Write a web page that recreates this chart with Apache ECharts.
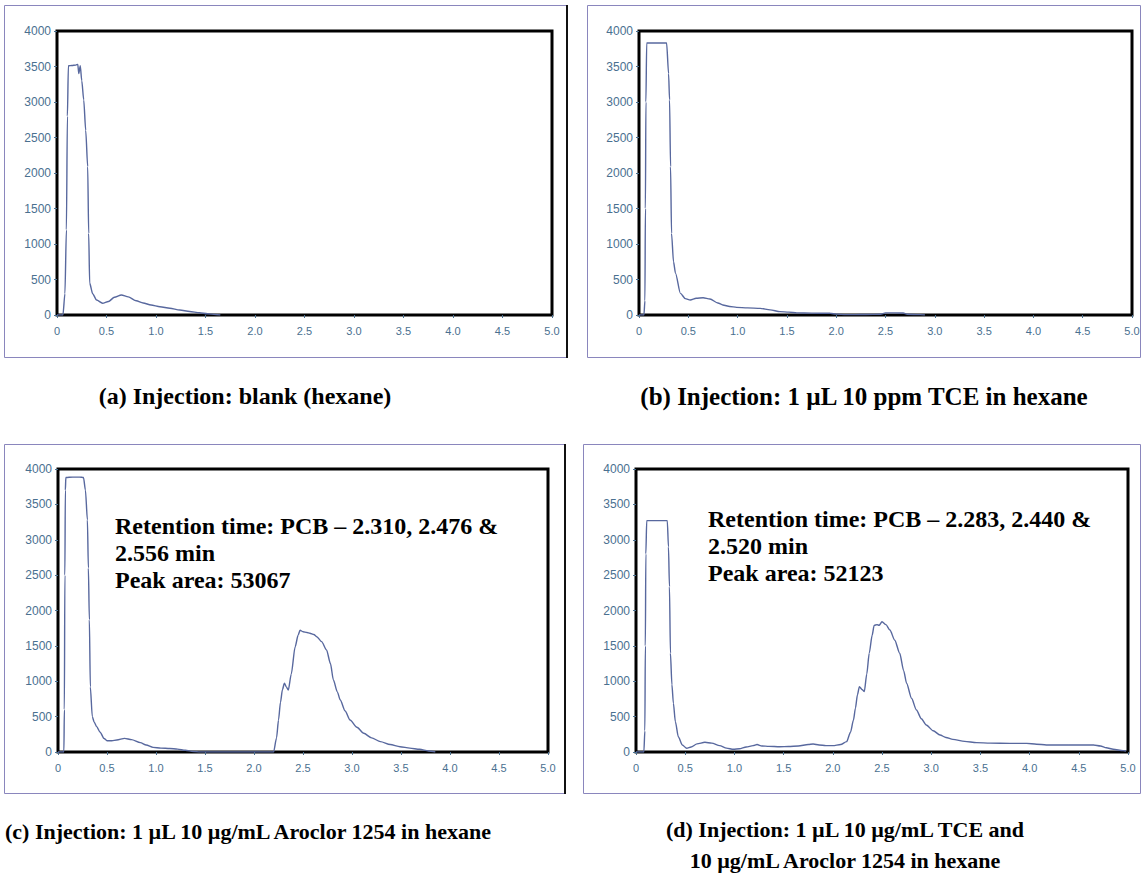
<!DOCTYPE html>
<html>
<head>
<meta charset="utf-8">
<title>GC chromatograms</title>
<script src="https://cdn.jsdelivr.net/npm/echarts@6/dist/echarts.min.js"></script>
<style>
  html, body { margin: 0; padding: 0; background: #fff; }
  #chart { width: 1143px; height: 873px; }
</style>
</head>
<body>
<div id="chart"></div>
<script>
// Retention time axis (min) and detector response axis
const xTicks = [0, 0.5, 1.0, 1.5, 2.0, 2.5, 3.0, 3.5, 4.0, 4.5, 5.0];
const yTicks = [0, 500, 1000, 1500, 2000, 2500, 3000, 3500, 4000];

// (a) blank (hexane)
const timeA = [0, 0.06, 0.08, 0.095, 0.105, 0.115, 0.15, 0.19, 0.21, 0.22, 0.235, 0.25, 0.27, 0.29, 0.31, 0.32, 0.33, 0.36, 0.40, 0.46, 0.52, 0.58, 0.65, 0.72, 0.80, 0.87, 0.95, 1.04, 1.14, 1.24, 1.34, 1.44, 1.52, 1.60, 1.65];
const respA = [0, 0, 300, 1200, 2800, 3510, 3515, 3520, 3530, 3400, 3510, 3300, 3030, 2600, 2090, 1150, 450, 300, 211, 165, 190, 250, 282, 255, 200, 169, 140, 117, 95, 70, 50, 32, 18, 8, 0];

// (b) 1 µL 10 ppm TCE in hexane
const timeB = [0, 0.05, 0.06, 0.065, 0.07, 0.078, 0.15, 0.22, 0.28, 0.30, 0.31, 0.32, 0.33, 0.35, 0.37, 0.42, 0.47, 0.52, 0.58, 0.65, 0.72, 0.80, 0.85, 0.92, 0.99, 1.10, 1.23, 1.33, 1.43, 1.52, 1.60, 1.75, 1.94, 2.00, 2.10, 2.20, 2.30, 2.45, 2.50, 2.60, 2.68, 2.72, 2.85, 2.90];
const respB = [0, 0, 200, 1500, 3000, 3830, 3830, 3830, 3830, 3400, 3030, 2090, 1150, 750, 590, 305, 230, 211, 235, 244, 225, 170, 141, 120, 108, 100, 94, 72, 47, 40, 30, 27, 24, 12, 5, 5, 8, 10, 30, 30, 28, 10, 5, 0];

// (c) 1 µL 10 µg/mL Aroclor 1254 in hexane
const timeC = [0, 0.06, 0.065, 0.07, 0.075, 0.08, 0.15, 0.22, 0.26, 0.28, 0.30, 0.31, 0.32, 0.33, 0.35, 0.37, 0.395, 0.43, 0.47, 0.50, 0.55, 0.60, 0.68, 0.75, 0.84, 0.90, 0.97, 1.05, 1.14, 1.22, 1.30, 1.38, 1.45, 2.20, 2.23, 2.25, 2.27, 2.29, 2.31, 2.33, 2.35, 2.38, 2.42, 2.45, 2.47, 2.50, 2.54, 2.57, 2.61, 2.64, 2.69, 2.74, 2.78, 2.81, 2.85, 2.88, 2.93, 2.98, 3.05, 3.12, 3.20, 3.29, 3.39, 3.49, 3.59, 3.69, 3.78, 3.85];
const respC = [0, 0, 600, 2500, 3700, 3880, 3885, 3885, 3880, 3700, 3280, 2600, 1870, 920, 500, 420, 358, 280, 190, 160, 158, 170, 193, 175, 132, 100, 66, 55, 50, 40, 25, 8, 0, 0, 200, 452, 700, 880, 971, 920, 876, 1100, 1488, 1650, 1720, 1700, 1690, 1678, 1660, 1630, 1560, 1442, 1250, 1018, 850, 735, 580, 452, 350, 264, 200, 146, 105, 75, 55, 38, 15, 0];

// (d) 1 µL 10 µg/mL TCE and 10 µg/mL Aroclor 1254 in hexane
const timeD = [0, 0.08, 0.09, 0.095, 0.10, 0.109, 0.20, 0.318, 0.33, 0.34, 0.35, 0.365, 0.38, 0.40, 0.43, 0.47, 0.515, 0.56, 0.62, 0.70, 0.77, 0.85, 0.92, 0.99, 1.05, 1.12, 1.19, 1.23, 1.28, 1.35, 1.46, 1.55, 1.65, 1.75, 1.80, 1.86, 1.93, 2.00, 2.08, 2.14, 2.18, 2.21, 2.23, 2.25, 2.27, 2.30, 2.32, 2.345, 2.37, 2.40, 2.42, 2.45, 2.47, 2.50, 2.54, 2.58, 2.63, 2.68, 2.72, 2.75, 2.80, 2.85, 2.90, 2.95, 3.02, 3.09, 3.15, 3.22, 3.34, 3.46, 3.60, 3.80, 3.97, 4.07, 4.17, 4.40, 4.65, 4.72, 4.78, 4.85, 4.95, 4.98];
const respD = [0, 0, 300, 1500, 2800, 3270, 3270, 3270, 2900, 2337, 1395, 950, 688, 430, 216, 100, 52, 70, 115, 137, 125, 90, 55, 38, 45, 70, 90, 105, 85, 80, 75, 78, 85, 105, 113, 100, 90, 90, 105, 146, 280, 452, 620, 806, 923, 880, 853, 1100, 1395, 1650, 1790, 1800, 1790, 1842, 1800, 1724, 1580, 1395, 1150, 971, 760, 594, 470, 382, 300, 240, 205, 179, 150, 132, 125, 122, 122, 110, 100, 99, 99, 85, 60, 38, 20, 15];

const captions = [
  '(a) Injection: blank (hexane)',
  '(b) Injection: 1 \u00b5L 10 ppm TCE in hexane',
  '(c) Injection: 1 \u00b5L 10 \u00b5g/mL Aroclor 1254 in hexane',
  '(d) Injection: 1 \u00b5L 10 \u00b5g/mL TCE and\n10 \u00b5g/mL Aroclor 1254 in hexane'
];
const notes = [
  'Retention time: PCB \u2013 2.310, 2.476 &\n2.556 min\nPeak area: 53067',
  'Retention time: PCB \u2013 2.283, 2.440 &\n2.520 min\nPeak area: 52123'
];

const panels = [
  { t: timeA, r: respA },
  { t: timeB, r: respB },
  { t: timeC, r: respC },
  { t: timeD, r: respD }
];

// Plot rectangles of the four chromatograms
const grids = [
  { left: 57, top: 31, width: 495, height: 284 },
  { left: 639, top: 31, width: 493, height: 284 },
  { left: 58, top: 469, width: 490, height: 283 },
  { left: 636, top: 469, width: 492, height: 283 }
];

const LABEL = '#4a7090';
const TRACE = '#58689e';
const SANS = 'Liberation Sans, Arial, sans-serif';
const SERIF = 'Liberation Serif, Times New Roman, serif';

const chart = echarts.init(document.getElementById('chart'), null, { renderer: 'svg' });

const option = {
  backgroundColor: '#fff',
  animation: false,
  grid: grids.map(g => Object.assign({
    show: true, borderColor: '#000', borderWidth: 3, backgroundColor: 'transparent'
  }, g)),
  xAxis: grids.map((g, i) => ({
    gridIndex: i, type: 'value',
    min: xTicks[0], max: xTicks[xTicks.length - 1], interval: xTicks[1] - xTicks[0],
    axisLine: { show: false },
    axisTick: { show: true, length: 3, lineStyle: { color: LABEL } },
    splitLine: { show: false },
    axisLabel: {
      color: LABEL, fontSize: 11, fontFamily: SANS, margin: 10,
      formatter: v => (v === 0 ? '0' : v.toFixed(1))
    }
  })),
  yAxis: grids.map((g, i) => ({
    gridIndex: i, type: 'value',
    min: yTicks[0], max: yTicks[yTicks.length - 1], interval: yTicks[1] - yTicks[0],
    axisLine: { show: false },
    axisTick: { show: true, length: 3, lineStyle: { color: LABEL } },
    splitLine: { show: false },
    axisLabel: { color: LABEL, fontSize: 12, fontFamily: SANS, margin: 6, formatter: v => String(v) }
  })),
  series: panels.map((p, i) => ({
    type: 'line', xAxisIndex: i, yAxisIndex: i,
    data: p.t.map((t, k) => [t, p.r[k]]),
    showSymbol: false, smooth: 0.25, smoothMonotone: 'x',
    lineStyle: { color: TRACE, width: 1.4 },
    z: 1
  })),
  graphic: [
    // panel frames
    { type: 'rect', shape: { x: 4.5, y: 5.5, width: 562, height: 352 }, style: { fill: 'none', stroke: '#8a86bd', lineWidth: 1 } },
    { type: 'line', shape: { x1: 567, y1: 5, x2: 567, y2: 358 }, style: { stroke: '#111', lineWidth: 2 } },
    { type: 'rect', shape: { x: 587.5, y: 5.5, width: 553, height: 352 }, style: { fill: 'none', stroke: '#8a86bd', lineWidth: 1 } },
    { type: 'rect', shape: { x: 4.5, y: 444.5, width: 560, height: 349 }, style: { fill: 'none', stroke: '#8a86bd', lineWidth: 1 } },
    { type: 'line', shape: { x1: 565, y1: 444, x2: 565, y2: 794 }, style: { stroke: '#111', lineWidth: 2 } },
    { type: 'rect', shape: { x: 583.5, y: 444.5, width: 557, height: 349 }, style: { fill: 'none', stroke: '#8a86bd', lineWidth: 1 } },
    // captions
    { type: 'text', x: 245, y: 396, style: { text: captions[0], font: 'bold 24px ' + SERIF, fill: '#000', textAlign: 'center', textVerticalAlign: 'middle' } },
    { type: 'text', x: 864, y: 396, style: { text: captions[1], font: 'bold 25px ' + SERIF, fill: '#000', textAlign: 'center', textVerticalAlign: 'middle' } },
    { type: 'text', x: 5, y: 831, style: { text: captions[2], font: 'bold 22px ' + SERIF, fill: '#000', textAlign: 'left', textVerticalAlign: 'middle' } },
    { type: 'text', x: 845, y: 814, style: { text: captions[3], font: 'bold 22px ' + SERIF, fill: '#000', textAlign: 'center', textVerticalAlign: 'top', lineHeight: 31 } },
    // retention notes
    { type: 'text', x: 115, y: 512, style: { text: notes[0], font: 'bold 24px ' + SERIF, fill: '#000', lineHeight: 27, textVerticalAlign: 'top' } },
    { type: 'text', x: 708, y: 505, style: { text: notes[1], font: 'bold 24px ' + SERIF, fill: '#000', lineHeight: 27, textVerticalAlign: 'top' } }
  ]
};

chart.setOption(option);
</script>
</body>
</html>
